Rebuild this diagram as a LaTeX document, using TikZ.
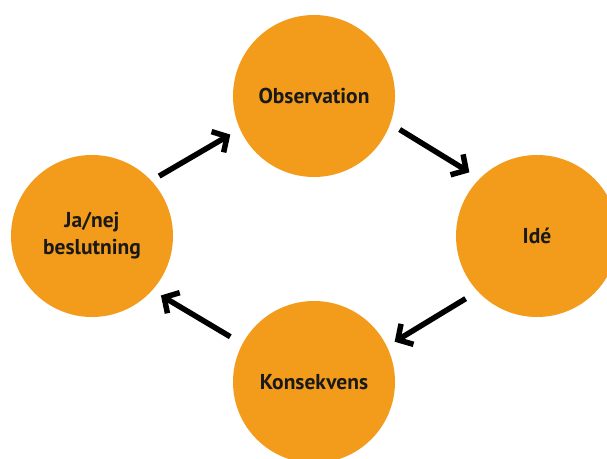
\documentclass[tikz,border=0pt]{standalone}
\usepackage{fontspec}
\setmainfont{PT Sans}
\usetikzlibrary{arrows.meta}
\definecolor{stageorange}{RGB}{243,155,27}
\tikzset{
	stage/.style={circle, fill=stageorange, inner sep=0pt, minimum size=162pt, align=center,
		font=\bfseries\fontsize{21.5}{27}\selectfont, text=black!90},
	flow/.style={line width=5.5pt, -{Straight Barb[length=11pt, width=24pt, line width=5.5pt]}, black}
}
\begin{document}
\begin{tikzpicture}[x=1pt, y=1pt]
	\useasboundingbox (0,0) rectangle (607,458);
	% Kreds af trin
	\node[stage] (obs) at (314,362) {Observation};
	\node[stage] (ide) at (537,222) {Idé};
	\node[stage] (kons) at (314,76) {Konsekvens};
	\node[stage] (janej) at (92,222) {Ja/nej\\beslutning};
	
	% Pile mellem trinene
	\draw[flow, shorten <=9pt, shorten >=11pt] (janej.43) -- (obs.204);
	\draw[flow, shorten <=11pt, shorten >=12pt] (obs.-20) -- (ide.135);
	\draw[flow, shorten <=14pt, shorten >=9pt] (ide.223) -- (kons.26);
	\draw[flow, shorten <=14pt, shorten >=10pt] (kons.152) -- (janej.-42);
\end{tikzpicture}
\end{document}
